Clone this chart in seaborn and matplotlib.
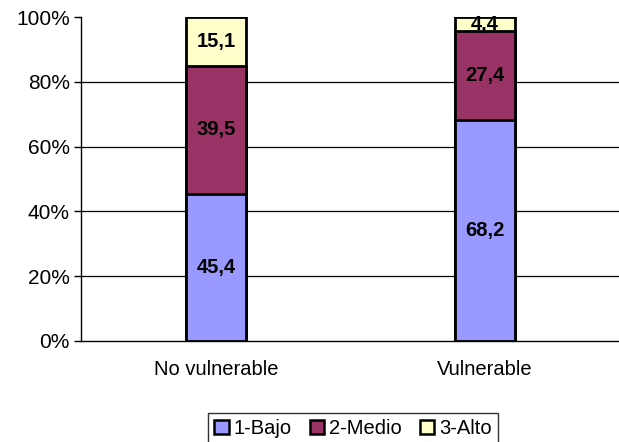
import numpy as np
import pandas as pd
import seaborn as sns
import matplotlib.pyplot as plt
from matplotlib.patches import Patch

categories = ["No vulnerable", "Vulnerable"]
series = ["1-Bajo", "2-Medio", "3-Alto"]
bajo = [45.4, 68.2]
medio = [39.5, 27.4]
alto = [15.1, 4.4]
colors = ["#9999FF", "#993366", "#FFFFCC"]
yticks = [0, 20, 40, 60, 80, 100]

sns.set_style("white")
plt.rcParams['font.family'] = ['Liberation Sans', 'DejaVu Sans']
plt.rcParams['text.color'] = 'black'
plt.rcParams['xtick.color'] = 'black'
plt.rcParams['ytick.color'] = 'black'

fig = plt.figure(figsize=(6.19, 4.42), dpi=100)
ax = fig.add_axes([81 / 619, 1 - 341 / 442, 1 - 81 / 619, (341 - 17) / 442])

values = np.array([bajo, medio, alto])
cum = np.cumsum(values, axis=0)

# stacked bars: draw cumulative totals from the top layer down
for i in range(len(series) - 1, -1, -1):
    df = pd.DataFrame({"cat": categories, "val": cum[i]})
    sns.barplot(data=df, x="cat", y="val", color=colors[i], width=0.224,
                edgecolor="black", linewidth=2, saturation=1, ax=ax, zorder=3)

# segment labels
for i in range(len(series)):
    for j in range(len(categories)):
        mid = cum[i][j] - values[i][j] / 2
        ax.text(j, mid, f"{values[i][j]:.1f}".replace(".", ","), ha="center", va="center",
                fontsize=14.5, fontweight="bold", color="black", zorder=5)

ax.set_xlim(-0.504, 1.47)
ax.set_ylim(0, 100)
ax.set_yticks(yticks)
ax.set_yticklabels([f"{t}%" for t in yticks], fontsize=15)
ax.set_xlabel("")
ax.set_ylabel("")
ax.tick_params(axis="x", which="major", length=0, labelsize=14.5, pad=14)
ax.set_xticks([0.5, 1.5], minor=True)
ax.tick_params(axis="x", which="minor", length=5, color="#555555", width=1, direction="out")
ax.tick_params(axis="y", length=5, width=1, color="black", direction="out", left=True, pad=3)

for t in yticks[1:-1]:
    ax.axhline(t, color="black", linewidth=0.9, zorder=1)

for side in ["top", "right"]:
    ax.spines[side].set_visible(False)
ax.spines["left"].set_color("black")
ax.spines["bottom"].set_color("black")
ax.spines["left"].set_linewidth(1)
ax.spines["bottom"].set_linewidth(1)

handles = [Patch(facecolor=c, edgecolor="black", linewidth=1.8) for c in colors]
leg = fig.legend(handles, series, loc="lower center", bbox_to_anchor=(353 / 619, -0.028), ncol=3,
                 fontsize=14.5, frameon=True, fancybox=False, handlelength=0.7, handleheight=0.7,
                 handletextpad=0.25, columnspacing=0.9, borderpad=0.3)
leg.get_frame().set_edgecolor("black")
leg.get_frame().set_linewidth(1)

fig.savefig("out.png", dpi=100)
